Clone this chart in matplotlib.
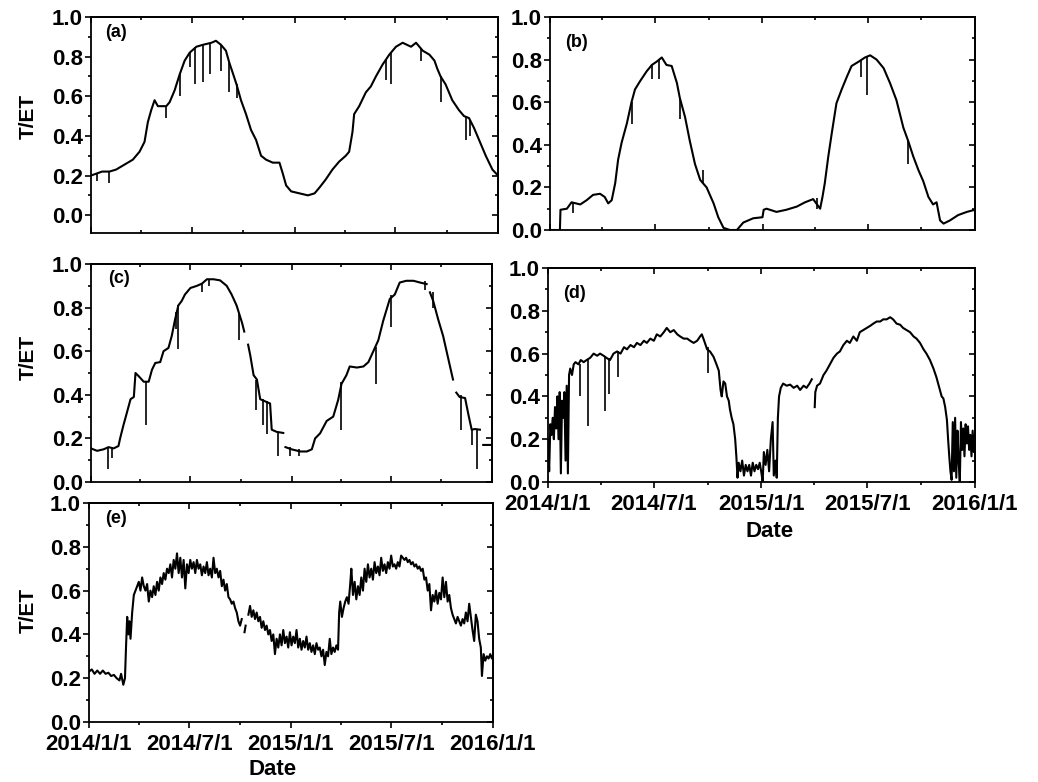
import numpy as np
import matplotlib
matplotlib.use("Agg")
import matplotlib.pyplot as plt
import matplotlib.dates as mdates
from matplotlib.ticker import MultipleLocator, FuncFormatter

plt.rcParams['font.family'] = ['Liberation Sans', 'DejaVu Sans']
plt.rcParams['font.weight'] = 'bold'

nan = np.nan
start = np.datetime64('2014-01-01')

# ---- panel (a): days since 2014-01-01, T/ET ----
days_a = [0, 10, 20, 33, 45, 63, 75, 87, 96, 102, 108, 114, 120, 135, 141, 150, 159, 168, 177, 189,
          201, 216, 224, 233, 242, 248, 254, 261, 269, 278, 287, 296, 305, 314, 326, 338, 344, 350, 359, 374,
          389, 401, 410, 421, 433, 445, 457, 463, 469, 472, 481, 493, 502, 511, 523, 535, 547, 559, 574, 583,
          595, 607, 616, 621, 627, 636, 648, 660, 669, 678, 687, 696, 708, 720, 730]
tet_a = [0.20, 0.21, 0.22, 0.22, 0.23, 0.26, 0.28, 0.32, 0.37, 0.47, 0.53, 0.58, 0.55, 0.55, 0.57, 0.63, 0.71, 0.78, 0.82, 0.85,
         0.86, 0.87, 0.88, 0.86, 0.83, 0.77, 0.72, 0.66, 0.58, 0.51, 0.43, 0.38, 0.30, 0.28, 0.265, 0.265, 0.21, 0.15, 0.12, 0.11,
         0.10, 0.11, 0.14, 0.18, 0.23, 0.27, 0.30, 0.32, 0.42, 0.51, 0.55, 0.62, 0.65, 0.70, 0.76, 0.81, 0.85, 0.87, 0.85, 0.87,
         0.83, 0.81, 0.78, 0.74, 0.70, 0.66, 0.58, 0.53, 0.50, 0.49, 0.44, 0.38, 0.30, 0.23, 0.20]
dip_day_a = [10, 33, 135, 159, 177, 186, 201, 214, 233, 248, 261, 529, 538, 592, 627, 672, 680]
dip_lo_a = [0.17, 0.16, 0.49, 0.60, 0.75, 0.66, 0.67, 0.71, 0.73, 0.62, 0.59, 0.68, 0.66, 0.78, 0.57, 0.38, 0.40]
dip_hi_a = [0.21, 0.22, 0.55, 0.71, 0.82, 0.85, 0.86, 0.87, 0.86, 0.77, 0.66, 0.79, 0.82, 0.84, 0.70, 0.50, 0.48]

# ---- panel (b) ----
days_b = [0, 17, 18, 29, 37, 52, 63, 74, 86, 94, 100, 106, 112, 117, 123, 132, 140, 146, 155, 166,
          175, 183, 192, 200, 209, 218, 223, 232, 240, 249, 258, 269, 281, 289, 298, 309, 321, 332, 349, 365,
          367, 372, 389, 406, 424, 438, 452, 464, 468, 472, 478, 484, 492, 501, 510, 518, 530, 541, 550, 561,
          573, 584, 595, 607, 615, 624, 633, 641, 650, 658, 664, 670, 676, 687, 701, 716, 730]
tet_b = [0.0, 0.0, 0.095, 0.10, 0.13, 0.12, 0.14, 0.165, 0.17, 0.155, 0.125, 0.14, 0.22, 0.33, 0.41, 0.50, 0.60, 0.66, 0.70, 0.745,
         0.775, 0.79, 0.81, 0.775, 0.77, 0.69, 0.62, 0.53, 0.42, 0.31, 0.235, 0.20, 0.125, 0.06, 0.01, 0.0, 0.0, 0.035, 0.055, 0.06,
         0.095, 0.10, 0.085, 0.095, 0.11, 0.13, 0.145, 0.10, 0.155, 0.22, 0.345, 0.455, 0.595, 0.66, 0.72, 0.77, 0.79, 0.81, 0.82, 0.80,
         0.76, 0.69, 0.61, 0.48, 0.42, 0.345, 0.28, 0.23, 0.155, 0.12, 0.13, 0.045, 0.03, 0.045, 0.07, 0.085, 0.095]
dip_day_b = [40, 141, 175, 188, 223, 262, 458, 535, 544, 615]
dip_lo_b = [0.08, 0.50, 0.71, 0.71, 0.52, 0.22, 0.10, 0.72, 0.635, 0.31]
dip_hi_b = [0.13, 0.60, 0.78, 0.80, 0.62, 0.28, 0.15, 0.80, 0.81, 0.42]

# ---- panel (c) ----
days_c = [0, 11, 23, 32, 41, 50, 53, 59, 65, 72, 78, 81, 87, 96, 105, 111, 117, 126, 132, 141,
          147, 153, 159, 165, 171, 181, 193, 202, 211, 223, 235, 247, 256, 265, 275, 279, 282, 286, 290, 296,
          302, 308, 317, 326, 329, 338, 350, 352, 354, 365, 381, 393, 402, 408, 417, 429, 441, 450, 456, 465,
          471, 484, 496, 505, 514, 523, 532, 538, 544, 553, 562, 574, 587, 599, 611, 614, 617, 623, 632, 641,
          650, 659, 662, 665, 671, 681, 687, 693, 699, 708, 711, 714, 730]
tet_c = [0.154, 0.143, 0.15, 0.16, 0.154, 0.165, 0.20, 0.26, 0.315, 0.38, 0.39, 0.50, 0.485, 0.46, 0.46, 0.515, 0.546, 0.55, 0.60, 0.615,
         0.67, 0.745, 0.81, 0.83, 0.86, 0.89, 0.90, 0.91, 0.93, 0.93, 0.925, 0.90, 0.86, 0.81, 0.73, 0.69, nan, 0.63, 0.58, 0.49,
         0.47, 0.38, 0.37, 0.36, 0.24, 0.23, 0.225, nan, 0.16, 0.15, 0.14, 0.14, 0.15, 0.20, 0.223, 0.28, 0.30, 0.377, 0.45, 0.49,
         0.53, 0.525, 0.53, 0.55, 0.60, 0.65, 0.74, 0.79, 0.84, 0.86, 0.915, 0.923, 0.923, 0.915, 0.908, nan, 0.87, 0.83, 0.746, 0.67,
         0.57, 0.47, nan, 0.41, 0.39, 0.385, 0.31, 0.24, 0.243, 0.24, nan, 0.17, 0.17]
dip_day_c = [31, 39, 101, 155, 158, 202, 215, 270, 301, 314, 320, 340, 363, 379, 456, 519, 546, 608, 622, 674, 693, 702]
dip_lo_c = [0.06, 0.11, 0.26, 0.70, 0.61, 0.87, 0.90, 0.65, 0.33, 0.26, 0.22, 0.12, 0.12, 0.12, 0.24, 0.45, 0.71, 0.88, 0.80, 0.24, 0.17, 0.06]
dip_hi_c = [0.16, 0.16, 0.46, 0.78, 0.81, 0.91, 0.93, 0.77, 0.47, 0.38, 0.37, 0.23, 0.16, 0.15, 0.46, 0.62, 0.86, 0.92, 0.87, 0.40, 0.24, 0.24]

# ---- panel (d) ----
days_d = [0, 2, 4, 6, 8, 10, 12, 14, 16, 18, 20, 22, 24, 26, 28, 30, 32, 34, 36, 38,
          41, 44, 47, 52, 56, 61, 66, 72, 78, 84, 89, 95, 100, 106, 112, 118, 124, 130, 135, 141,
          147, 152, 158, 164, 169, 175, 181, 186, 192, 198, 203, 209, 215, 221, 226, 232, 238, 243, 249, 255,
          260, 263, 267, 272, 277, 283, 288, 292, 295, 297, 300, 303, 306, 309, 311, 314, 317, 320, 322, 324,
          326, 329, 332, 335, 338, 341, 344, 347, 350, 353, 356, 359, 362, 365, 367, 369, 372, 375, 378, 381,
          384, 386, 389, 391, 393, 395, 398, 402, 408, 414, 420, 426, 431, 437, 442, 447, 451, 453, 456, 457,
          460, 465, 471, 476, 482, 488, 494, 499, 505, 511, 516, 522, 528, 533, 539, 545, 551, 556, 562, 568,
          573, 579, 585, 590, 596, 602, 607, 613, 619, 625, 630, 636, 642, 647, 653, 659, 664, 667, 670, 673,
          676, 679, 682, 684, 686, 688, 690, 692, 694, 696, 698, 700, 702, 704, 706, 708, 710, 712, 714, 716,
          718, 720, 722, 724, 726, 728, 730]
tet_d = [0.20, 0.05, 0.27, 0.22, 0.30, 0.20, 0.35, 0.25, 0.40, 0.20, 0.42, 0.04, 0.38, 0.30, 0.42, 0.10, 0.45, 0.04, 0.50, 0.53,
         0.50, 0.55, 0.56, 0.55, 0.57, 0.56, 0.57, 0.58, 0.60, 0.59, 0.60, 0.59, 0.58, 0.57, 0.60, 0.61, 0.60, 0.63, 0.62, 0.64,
         0.63, 0.65, 0.64, 0.66, 0.65, 0.67, 0.66, 0.69, 0.68, 0.70, 0.72, 0.70, 0.71, 0.69, 0.68, 0.67, 0.67, 0.66, 0.65, 0.66,
         0.68, 0.69, 0.66, 0.62, 0.61, 0.585, 0.55, 0.52, 0.43, 0.40, 0.47, 0.46, 0.40, 0.38, 0.34, 0.30, 0.27, 0.20, 0.12, 0.02,
         0.09, 0.05, 0.10, 0.03, 0.08, 0.05, 0.08, 0.03, 0.09, 0.05, 0.08, 0.06, 0.09, 0.04, 0.00, 0.14, 0.08, 0.15, 0.05, 0.20,
         0.28, 0.03, 0.10, 0.02, 0.30, 0.40, 0.44, 0.46, 0.45, 0.455, 0.44, 0.45, 0.43, 0.45, 0.44, 0.46, 0.48, nan, 0.35, 0.42,
         0.45, 0.46, 0.50, 0.52, 0.55, 0.58, 0.60, 0.61, 0.64, 0.66, 0.65, 0.68, 0.66, 0.70, 0.71, 0.72, 0.73, 0.74, 0.75, 0.75,
         0.76, 0.76, 0.77, 0.76, 0.74, 0.735, 0.72, 0.71, 0.70, 0.68, 0.67, 0.65, 0.62, 0.60, 0.57, 0.53, 0.49, 0.46, 0.43, 0.40,
         0.39, 0.35, 0.29, 0.20, 0.12, 0.05, 0.01, 0.28, 0.05, 0.30, 0.02, 0.24, 0.10, 0.0, 0.28, 0.15, 0.25, 0.12, 0.27, 0.18,
         0.26, 0.15, 0.22, 0.12, 0.24, 0.14, 0.22]
dip_day_d = [54, 69, 98, 104, 119, 274]
dip_lo_d = [0.40, 0.26, 0.33, 0.41, 0.49, 0.51]
dip_hi_d = [0.55, 0.57, 0.59, 0.58, 0.61, 0.63]

# ---- panel (e) ----
days_e = [0, 5, 10, 15, 20, 25, 30, 35, 40, 45, 50, 55, 58, 62, 65, 67, 69, 71, 73, 75,
          78, 81, 84, 87, 90, 93, 96, 99, 102, 105, 108, 111, 114, 117, 120, 123, 126, 129, 132, 135,
          138, 141, 144, 147, 150, 153, 156, 159, 162, 165, 168, 171, 174, 177, 180, 183, 186, 189, 192, 195,
          198, 201, 204, 207, 210, 213, 216, 219, 222, 225, 228, 231, 234, 237, 240, 243, 246, 249, 252, 255,
          258, 261, 264, 267, 270, 273, 276, 278, 281, 283, 285, 288, 291, 294, 297, 300, 303, 306, 309, 312,
          315, 318, 321, 324, 327, 330, 333, 336, 339, 342, 345, 348, 351, 354, 357, 360, 363, 366, 369, 372,
          375, 378, 381, 384, 387, 390, 393, 396, 399, 402, 405, 408, 411, 414, 417, 420, 423, 426, 429, 432,
          435, 438, 441, 444, 447, 450, 452, 454, 457, 460, 463, 466, 469, 472, 474, 477, 480, 483, 486, 489,
          492, 495, 498, 501, 504, 507, 510, 513, 516, 519, 522, 525, 528, 531, 534, 537, 540, 543, 546, 549,
          552, 555, 558, 561, 564, 567, 570, 573, 576, 579, 582, 585, 588, 591, 594, 597, 600, 603, 606, 609,
          612, 615, 618, 621, 624, 627, 630, 633, 636, 639, 642, 645, 648, 651, 654, 657, 660, 663, 666, 669,
          672, 675, 678, 681, 684, 687, 690, 693, 696, 699, 702, 705, 708, 710, 713, 716, 719, 722, 725, 728,
          730]
tet_e = [0.23, 0.24, 0.22, 0.235, 0.22, 0.235, 0.22, 0.225, 0.21, 0.215, 0.20, 0.19, 0.22, 0.17, 0.20, 0.35, 0.48, 0.40, 0.46, 0.38,
         0.50, 0.58, 0.60, 0.62, 0.64, 0.60, 0.66, 0.62, 0.60, 0.63, 0.55, 0.60, 0.57, 0.62, 0.58, 0.64, 0.60, 0.66, 0.63, 0.68,
         0.65, 0.70, 0.68, 0.72, 0.66, 0.74, 0.70, 0.77, 0.68, 0.75, 0.66, 0.74, 0.61, 0.72, 0.68, 0.74, 0.70, 0.73, 0.68, 0.74,
         0.70, 0.72, 0.67, 0.71, 0.68, 0.73, 0.67, 0.70, 0.66, 0.75, 0.68, 0.70, 0.66, 0.69, 0.62, 0.65, 0.60, 0.63, 0.57, 0.56,
         0.54, 0.55, 0.52, 0.50, 0.46, 0.44, 0.47, nan, 0.41, 0.44, nan, 0.49, 0.53, 0.48, 0.51, 0.47, 0.50, 0.46, 0.48, 0.43,
         0.46, 0.42, 0.44, 0.40, 0.42, 0.37, 0.40, 0.31, 0.38, 0.34, 0.40, 0.35, 0.42, 0.36, 0.39, 0.34, 0.41, 0.35, 0.39, 0.36,
         0.42, 0.34, 0.38, 0.33, 0.37, 0.34, 0.39, 0.33, 0.36, 0.32, 0.35, 0.31, 0.36, 0.33, 0.34, 0.30, 0.33, 0.26, 0.32, 0.30,
         0.38, 0.31, 0.34, 0.32, 0.35, 0.33, 0.50, 0.55, 0.48, 0.52, 0.55, 0.57, 0.54, 0.63, 0.70, 0.58, 0.64, 0.56, 0.62, 0.58,
         0.66, 0.60, 0.70, 0.64, 0.72, 0.66, 0.70, 0.65, 0.73, 0.68, 0.71, 0.67, 0.75, 0.69, 0.72, 0.68, 0.73, 0.70, 0.76, 0.71,
         0.72, 0.70, 0.73, 0.71, 0.76, 0.75, 0.74, 0.75, 0.73, 0.74, 0.72, 0.73, 0.71, 0.72, 0.70, 0.71, 0.69, 0.70, 0.65, 0.66,
         0.60, 0.63, 0.51, 0.58, 0.55, 0.60, 0.54, 0.59, 0.56, 0.66, 0.57, 0.64, 0.55, 0.58, 0.52, 0.49, 0.47, 0.45, 0.48, 0.46,
         0.44, 0.47, 0.45, 0.50, 0.46, 0.54, 0.48, 0.42, 0.37, 0.49, 0.46, 0.38, 0.34, 0.21, 0.31, 0.28, 0.30, 0.29, 0.31, 0.29,
         0.30]

panels = [
    ('(a)', days_a, tet_a, dip_day_a, dip_lo_a, dip_hi_a),
    ('(b)', days_b, tet_b, dip_day_b, dip_lo_b, dip_hi_b),
    ('(c)', days_c, tet_c, dip_day_c, dip_lo_c, dip_hi_c),
    ('(d)', days_d, tet_d, dip_day_d, dip_lo_d, dip_hi_d),
    ('(e)', days_e, tet_e, [], [], []),
]

# axes boxes in figure fraction (left, bottom, width, height)
W, H = 1038.0, 782.0
boxes = [
    (91 / W, 1 - 233 / H, 407 / W, 216 / H),
    (550 / W, 1 - 230 / H, 425 / W, 213 / H),
    (91 / W, 1 - 482 / H, 401 / W, 218 / H),
    (548 / W, 1 - 482 / H, 427 / W, 214 / H),
    (89 / W, 1 - 722 / H, 404 / W, 219 / H),
]
tag_pos = [(0.035, 0.93), (0.035, 0.88), (0.042, 0.935), (0.035, 0.88), (0.04, 0.93)]
ylab_pos = [(-0.13, 0.54), None, (-0.132, 0.57), None, (-0.128, 0.51)]


def date_fmt(x, pos):
    d = mdates.num2date(x)
    return f"{d.year}/{d.month}/{d.day}"


fig = plt.figure(figsize=(10.38, 7.82), dpi=100)

for i, (tag, days, vals, ddays, dlo, dhi) in enumerate(panels):
    ax = fig.add_axes(boxes[i])
    x = start + np.array(days).astype('timedelta64[D]')
    ax.plot(x, vals, color='black', lw=1.5)
    if ddays:
        xd = start + np.array(ddays).astype('timedelta64[D]')
        ax.vlines(xd, dlo, dhi, color='black', lw=1.2)

    ax.set_xlim(np.datetime64('2014-01-01'), np.datetime64('2016-01-01'))
    if i == 0:
        ax.set_ylim(-0.09, 1.0)
    else:
        ax.set_ylim(0.0, 1.0)
    ax.yaxis.set_major_locator(MultipleLocator(0.2))
    ax.yaxis.set_minor_locator(MultipleLocator(0.1))
    ax.yaxis.set_major_formatter(FuncFormatter(lambda v, p: f"{v:.1f}"))
    ax.xaxis.set_major_locator(mdates.MonthLocator(bymonth=[1, 7]))
    ax.xaxis.set_minor_locator(mdates.MonthLocator(bymonth=[4, 10]))

    labeled = i in (3, 4)
    bdir = 'out' if labeled else 'in'
    ax.tick_params(axis='y', which='both', direction='out', left=True, right=False,
                   labelsize=16, pad=1.5, width=1.2)
    ax.tick_params(axis='y', which='major', length=4.5)
    ax.tick_params(axis='y', which='minor', length=2.5)
    ax.tick_params(axis='x', which='both', direction=bdir, bottom=True, top=False,
                   labelsize=16, pad=4, width=1.2, labelbottom=labeled)
    ax.tick_params(axis='x', which='major', length=4.5)
    ax.tick_params(axis='x', which='minor', length=2.5)
    if labeled:
        ax.xaxis.set_major_formatter(FuncFormatter(date_fmt))

    # mirrored inward ticks on top and right
    sec = ax.secondary_yaxis('right')
    sec.yaxis.set_major_locator(MultipleLocator(0.2))
    sec.yaxis.set_minor_locator(MultipleLocator(0.1))
    sec.tick_params(which='both', direction='in', labelright=False, width=1.2)
    sec.tick_params(which='major', length=4.5)
    sec.tick_params(which='minor', length=2.5)
    secx = ax.secondary_xaxis('top')
    secx.xaxis.set_major_locator(mdates.MonthLocator(bymonth=[1, 7]))
    secx.xaxis.set_minor_locator(mdates.MonthLocator(bymonth=[4, 10]))
    secx.tick_params(which='both', direction='in', labeltop=False, width=1.2)
    secx.tick_params(which='major', length=4.5)
    secx.tick_params(which='minor', length=2.5)

    for sp in ax.spines.values():
        sp.set_linewidth(1.3)
    sec.spines['right'].set_linewidth(1.3)
    secx.spines['top'].set_linewidth(1.3)

    ax.text(tag_pos[i][0], tag_pos[i][1], tag, transform=ax.transAxes,
            fontsize=13, fontweight='bold', ha='left', va='center')

    if ylab_pos[i] is not None:
        ax.set_ylabel('T/ET', fontsize=15, fontweight='bold')
        ax.yaxis.set_label_coords(*ylab_pos[i])

    if i == 3:
        ax.set_xlabel('Date', fontsize=16, fontweight='bold')
        ax.xaxis.set_label_coords(0.52, -0.18)
    if i == 4:
        ax.set_xlabel('Date', fontsize=16, fontweight='bold')
        ax.xaxis.set_label_coords(0.455, -0.17)

fig.savefig('out.png', dpi=100)
